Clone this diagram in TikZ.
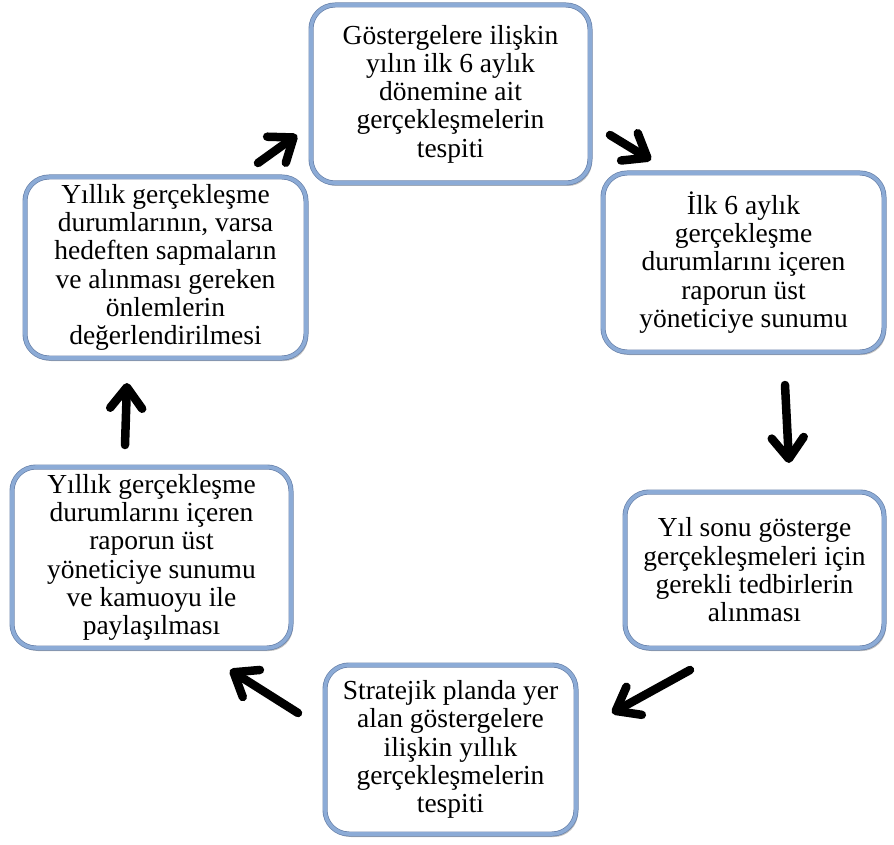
\documentclass[tikz,border=0pt]{standalone}
\usepackage{fontspec}
\setmainfont{Liberation Serif}
\usetikzlibrary{arrows.meta,shadows}
\definecolor{bordblue}{RGB}{140,171,214}
\definecolor{bordedge}{RGB}{105,130,170}
\begin{document}
\begin{tikzpicture}[x=1pt,y=-1pt,
  box/.style={draw=bordedge, line width=0.7pt, double=bordblue, double distance=3.6pt,
    rounded corners=24pt, fill=white,
    inner sep=0pt, align=center, font=\fontsize{27.5}{28.3}\selectfont,
    drop shadow={shadow xshift=2pt, shadow yshift=-3pt, opacity=0.5}},
  flow/.style={line width=8.5pt, line cap=round,
    -{Straight Barb[round, length=21pt, width=32pt]}}]
\useasboundingbox (0,0) rectangle (894,845);

\node[box, minimum width=279pt, minimum height=178pt] (b1) at (450.5,94)
  {Göstergelere ilişkin\\yılın ilk 6 aylık\\dönemine ait\\gerçekleşmelerin\\tespiti};
\node[box, minimum width=281pt, minimum height=179pt] (b2) at (743.5,262.5)
  {İlk 6 aylık\\gerçekleşme\\durumlarını içeren\\raporun üst\\yöneticiye sunumu};
\node[box, minimum width=259pt, minimum height=156pt] (b3) at (754.5,570)
  {Yıl sonu gösterge\\gerçekleşmeleri için\\gerekli tedbirlerin\\alınması};
\node[box, minimum width=251pt, minimum height=169pt] (b4) at (450.5,749.5)
  {Stratejik planda yer\\alan göstergelere\\ilişkin yıllık\\gerçekleşmelerin\\tespiti};
\node[box, minimum width=279pt, minimum height=181pt] (b5) at (151.5,557.5)
  {Yıllık gerçekleşme\\durumlarını içeren\\raporun üst\\yöneticiye sunumu\\ve kamuoyu ile\\paylaşılması};
\node[box, minimum width=281pt, minimum height=181pt] (b6) at (165.5,267.5)
  {Yıllık gerçekleşme\\durumlarının, varsa\\hedeften sapmaların\\ve alınması gereken\\önlemlerin\\değerlendirilmesi};

\coordinate (a1s) at (258,163); \coordinate (a1e) at (297,135);
\coordinate (a2s) at (610,135); \coordinate (a2e) at (651,160);
\coordinate (a3s) at (785,385); \coordinate (a3e) at (789,463);
\coordinate (a4s) at (690,670); \coordinate (a4e) at (612,713);
\coordinate (a5s) at (298,713); \coordinate (a5e) at (230,670);
\coordinate (a6s) at (125,445); \coordinate (a6e) at (127,383);

\draw[flow] (a1s) -- (a1e);
\draw[flow] (a2s) -- (a2e);
\draw[flow] (a3s) -- (a3e);
\draw[flow] (a4s) -- (a4e);
\draw[flow] (a5s) -- (a5e);
\draw[flow] (a6s) -- (a6e);
\end{tikzpicture}
\end{document}
